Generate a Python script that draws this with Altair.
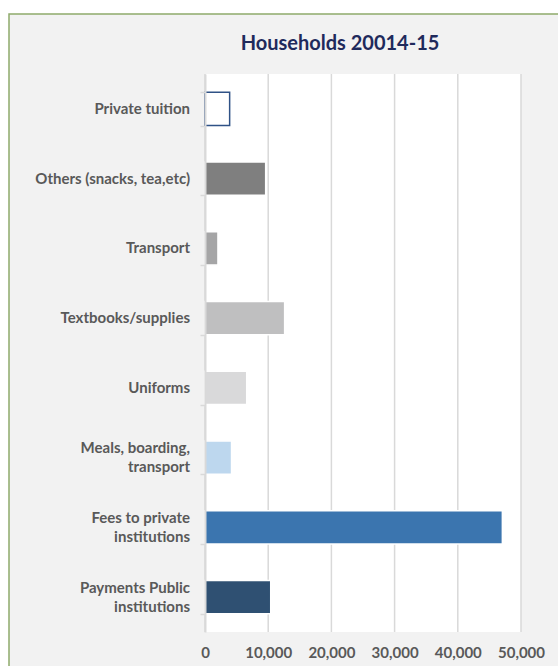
import altair as alt
import pandas as pd

categories = [
    "Private tuition",
    "Others (snacks, tea,etc)",
    "Transport",
    "Textbooks/supplies",
    "Uniforms",
    "Meals, boarding,|transport",
    "Fees to private|institutions",
    "Payments Public|institutions",
]
values = [3900, 9600, 2050, 12600, 6600, 4200, 47050, 10400]
fills = ["#FFFFFF", "#7F7F7F", "#A5A5A6", "#BFBFC0", "#D9D9DA", "#BDD7EE", "#3B75AF", "#2F5072"]
strokes = ["#2F5286", "#FFFFFF", "#FFFFFF", "#FFFFFF", "#FFFFFF", "#FFFFFF", "#FFFFFF", "#FFFFFF"]
xticks = [0, 10000, 20000, 30000, 40000, 50000]
title_text = "Households 20014-15"

W, H = 316, 558

df = pd.DataFrame({"category": categories, "amount": values})
df["lines"] = df["category"].str.count(r"\|") + 1
grid_df = pd.DataFrame({"tick": xticks})
one = pd.DataFrame({"title": [title_text]})

xscale = alt.Scale(domain=[0, 50000], nice=False)
yscale = alt.Scale(domain=categories, paddingInner=0.52, paddingOuter=0.26)
xaxis = alt.Axis(
    values=xticks,
    format=",.0f",
    grid=False,
    ticks=False,
    domain=False,
    labelFont="Lato",
    labelFontWeight="bold",
    labelFontSize=15,
    labelColor="#595959",
    labelPadding=13,
    labelFlush=False,
    zindex=1,
)
yaxis = alt.Axis(
    labels=False,
    tickBand="extent",
    tickSize=5,
    tickColor="#D9D9D9",
    tickWidth=1.5,
    domainColor="#D9D9D9",
    domainWidth=2,
    grid=False,
    zindex=1,
)

panel = alt.Chart(one).mark_rect(
    fill="#F2F2F2", stroke="#8EAA6B", strokeWidth=1.5
).encode(
    x=alt.value(-196), x2=alt.value(700), y=alt.value(-60), y2=alt.value(800)
)

plotbg = alt.Chart(one).mark_rect(fill="#FFFFFF").encode(
    x=alt.value(0), x2=alt.value(W), y=alt.value(0), y2=alt.value(H)
)

title = alt.Chart(one).mark_text(
    font="Lato", fontWeight="bold", fontSize=20, color="#1F2A5C",
    align="center", baseline="alphabetic"
).encode(
    text="title:N", x=alt.value(135), y=alt.value(-24)
)

grid = alt.Chart(grid_df).mark_rule(color="#D9D9D9", strokeWidth=1.5).encode(
    x=alt.X("tick:Q", scale=xscale, axis=xaxis, title=None)
)

bars = alt.Chart(df).mark_bar(strokeWidth=1.5).encode(
    y=alt.Y("category:N", sort=categories, scale=yscale, title=None, axis=yaxis),
    x=alt.X("amount:Q", scale=xscale, title=None, axis=xaxis),
    fill=alt.Fill("category:N", scale=alt.Scale(domain=categories, range=fills), legend=None),
    stroke=alt.Stroke("category:N", scale=alt.Scale(domain=categories, range=strokes), legend=None),
)

label_style = dict(
    font="Lato", fontWeight="bold", fontSize=15, color="#595959",
    align="right", baseline="middle", lineBreak="|", lineHeight=19,
)

labels1 = alt.Chart(df).transform_filter("datum.lines == 1").mark_text(**label_style).encode(
    y=alt.Y("category:N", sort=categories, scale=yscale, title=None, axis=yaxis),
    x=alt.value(-15),
    text="category:N",
)
labels2 = alt.Chart(df).transform_filter("datum.lines == 2").mark_text(dy=-9.5, **label_style).encode(
    y=alt.Y("category:N", sort=categories, scale=yscale, title=None, axis=yaxis),
    x=alt.value(-15),
    text="category:N",
)

chart = alt.layer(panel, plotbg, grid, bars, labels1, labels2, title).properties(
    width=W,
    height=H,
    padding={"left": 205, "top": 74, "right": 37, "bottom": 34},
    autosize=alt.AutoSizeParams(type="none"),
).configure_view(stroke=None).configure(background="#FFFFFF")

chart.save("out.html", embed_options={"renderer": "svg", "actions": False})
